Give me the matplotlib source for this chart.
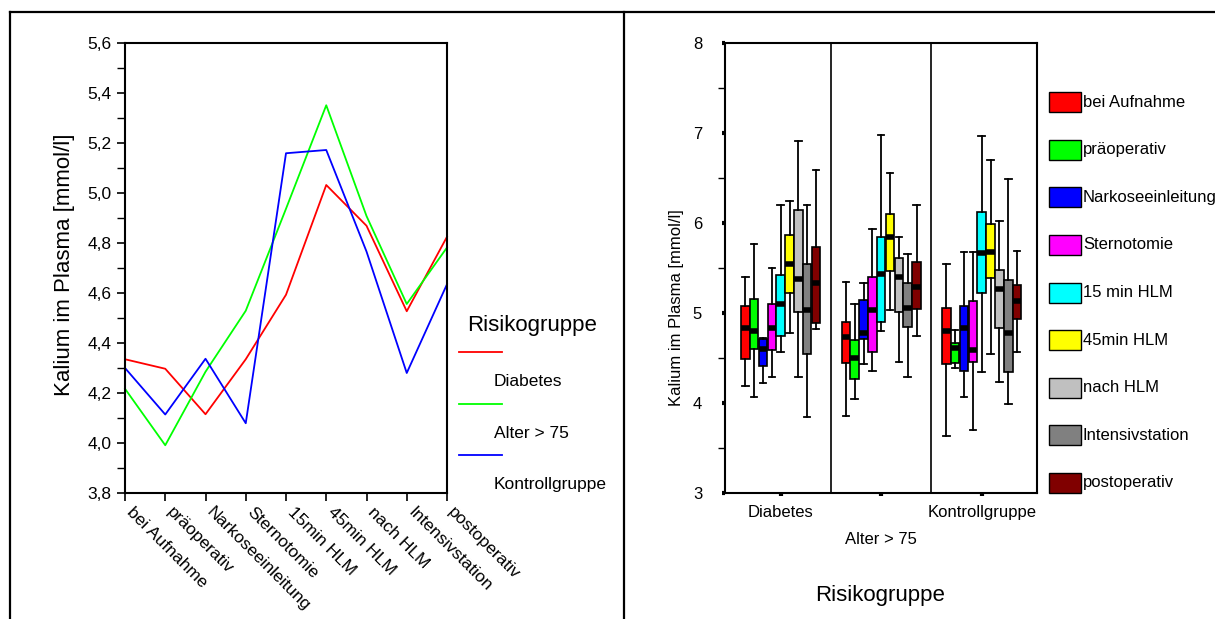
import matplotlib
matplotlib.use("Agg")
import matplotlib.pyplot as plt
from matplotlib.lines import Line2D
from matplotlib.patches import Rectangle
from matplotlib.transforms import ScaledTranslation

plt.rcParams['font.family'] = ['Liberation Sans', 'DejaVu Sans']

# left chart: mean potassium per time point and risk group
zeitpunkte = ["bei Aufnahme", "präoperativ", "Narkoseeinleitung", "Sternotomie",
              "15min HLM", "45min HLM", "nach HLM", "Intensivstation", "postoperativ"]
diabetes = [4.335, 4.297, 4.115, 4.335, 4.593, 5.032, 4.869, 4.527, 4.825]
alter75 = [4.217, 3.991, 4.285, 4.529, 4.937, 5.351, 4.908, 4.556, 4.782]
kontrolle = [4.300, 4.114, 4.337, 4.079, 5.159, 5.172, 4.766, 4.280, 4.635]
gruppen = ["Diabetes", "Alter > 75", "Kontrollgruppe"]
linien_farben = ["#ff0000", "#00ff00", "#0000ff"]

# right chart: boxplot statistics, one row per group, one value per time point
legend_labels = ["bei Aufnahme", "präoperativ", "Narkoseeinleitung", "Sternotomie",
                 "15 min HLM", "45min HLM", "nach HLM", "Intensivstation", "postoperativ"]
box_farben = ["#ff0000", "#00ff00", "#0000ff", "#ff00ff", "#00ffff",
              "#ffff00", "#c0c0c0", "#808080", "#800000"]
whislo = [[4.19, 4.07, 4.22, 4.29, 4.57, 4.78, 4.29, 3.84, 4.82],
          [3.86, 4.04, 4.43, 4.36, 4.80, 5.03, 4.46, 4.29, 4.74],
          [3.63, 4.39, 4.07, 3.70, 4.34, 4.55, 4.23, 3.99, 4.57]]
q1 = [[4.49, 4.60, 4.41, 4.59, 4.74, 5.22, 5.01, 4.55, 4.89],
      [4.44, 4.27, 4.71, 4.57, 4.90, 5.47, 5.01, 4.85, 5.04],
      [4.43, 4.44, 4.36, 4.46, 5.22, 5.39, 4.83, 4.34, 4.93]]
med = [[4.83, 4.80, 4.60, 4.83, 5.10, 5.54, 5.38, 5.03, 5.33],
       [4.73, 4.50, 4.78, 5.03, 5.43, 5.85, 5.40, 5.06, 5.29],
       [4.80, 4.61, 4.83, 4.59, 5.67, 5.68, 5.27, 4.78, 5.13]]
q3 = [[5.08, 5.16, 4.71, 5.10, 5.42, 5.87, 6.14, 5.54, 5.73],
      [4.90, 4.70, 5.14, 5.40, 5.85, 6.10, 5.61, 5.33, 5.57],
      [5.06, 4.67, 5.08, 5.13, 6.12, 5.99, 5.48, 5.37, 5.31]]
whishi = [[5.40, 5.77, 4.72, 5.50, 6.20, 6.24, 6.91, 6.20, 6.59],
          [5.34, 5.10, 5.33, 5.93, 6.98, 6.56, 5.85, 5.66, 6.20],
          [5.54, 4.81, 5.68, 5.68, 6.97, 6.70, 6.02, 6.49, 5.69]]

W, H = 1215, 619
fig = plt.figure(figsize=(W / 100, H / 100), dpi=100)


def fx(x):
    return x / W


def fy(y):
    return 1 - y / H


# frame lines of the two panels
for xs, ys in [([10, 1215], [12, 12]), ([10, 10], [12, 619]), ([624, 624], [12, 619])]:
    fig.add_artist(Line2D([fx(v) for v in xs], [fy(v) for v in ys],
                          color="black", lw=1.6, transform=fig.transFigure))

# ---------------- left: line chart ----------------
ax1 = fig.add_axes([fx(125), fy(493), fx(447 - 125), (493 - 43) / H])
x = list(range(len(zeitpunkte)))
for werte, farbe in zip([diabetes, alter75, kontrolle], linien_farben):
    ax1.plot(x, werte, color=farbe, lw=1.3, clip_on=False)
ax1.set_xlim(0, len(zeitpunkte) - 1)
ax1.set_ylim(3.8, 5.6)
ax1.set_yticks([3.8 + 0.2 * i for i in range(10)])
ax1.set_yticklabels([f"{3.8 + 0.2 * i:.1f}".replace(".", ",") for i in range(10)], fontsize=12.5)
ax1.set_yticks([3.9 + 0.2 * i for i in range(9)], minor=True)
ax1.tick_params(axis="y", which="major", length=6, width=1.2, direction="out")
ax1.tick_params(axis="y", which="minor", length=6, width=1.0, direction="out")
ax1.tick_params(axis="x", length=6, width=1.2, direction="out", pad=4)
ax1.set_xticks(x)
ax1.set_xticklabels(zeitpunkte, rotation=-45, ha="left", va="top",
                    rotation_mode="anchor", fontsize=12.5)
# SPSS puts the slanted labels a little to the right of each tick
shift = ScaledTranslation(0.09, 0.02, fig.dpi_scale_trans)
for lbl in ax1.get_xticklabels():
    lbl.set_transform(lbl.get_transform() + shift)
for s in ax1.spines.values():
    s.set_linewidth(1.5)
fig.text(fx(65), fy(265), "Kalium im Plasma [mmol/l]", rotation=90,
         ha="center", va="center", fontsize=16)

# left legend (SPSS style: line above its label)
fig.text(fx(467), fy(325), "Risikogruppe", ha="left", va="center", fontsize=16)
for i, (name, farbe) in enumerate(zip(gruppen, linien_farben)):
    ly = 352 + i * 51.5
    fig.add_artist(Line2D([fx(459), fx(502)], [fy(ly), fy(ly)], color=farbe, lw=1.3,
                          transform=fig.transFigure))
    fig.text(fx(494), fy(ly + 30), name, ha="left", va="center", fontsize=12.5)

# ---------------- right: grouped boxplots ----------------
ax2 = fig.add_axes([fx(725), fy(493), fx(1037 - 725), (493 - 43) / H])
spacing = 0.088
for g in range(len(gruppen)):
    stats = []
    for k in range(len(legend_labels)):
        stats.append(dict(whislo=whislo[g][k], q1=q1[g][k], med=med[g][k],
                          q3=q3[g][k], whishi=whishi[g][k], fliers=[]))
    pos = [g + (k - 4) * spacing for k in range(len(legend_labels))]
    bp = ax2.bxp(stats, positions=pos, widths=0.085, patch_artist=True,
                 showfliers=False, capwidths=0.065, manage_ticks=False,
                 boxprops=dict(linewidth=1.2, edgecolor="black"),
                 medianprops=dict(color="black", linewidth=4, solid_capstyle="butt"),
                 whiskerprops=dict(color="black", linewidth=1.3),
                 capprops=dict(color="black", linewidth=1.3))
    for patch, farbe in zip(bp["boxes"], box_farben):
        patch.set_facecolor(farbe)
for xv in [0.5, 1.5]:
    ax2.axvline(xv, color="black", lw=1.2)
ax2.set_xlim(-0.554, 2.55)
ax2.set_ylim(3, 8)
ax2.set_yticks(range(3, 9))
ax2.set_yticklabels([str(v) for v in range(3, 9)], fontsize=12)
ax2.set_yticks([3.5, 4.5, 5.5, 6.5, 7.5], minor=True)
ax2.tick_params(axis="y", which="major", length=2.5, width=3, pad=14)
ax2.tick_params(axis="y", which="minor", length=5, width=1)
ax2.set_xticks(range(len(gruppen)))
ax2.set_xticklabels(["Diabetes", "\nAlter > 75", "Kontrollgruppe"], fontsize=12,
                    linespacing=2.0)
ax2.tick_params(axis="x", length=2.5, width=3, pad=6)
for s in ax2.spines.values():
    s.set_linewidth(1.5)
fig.text(fx(676), fy(308), "Kalium im Plasma [mmol/l]", rotation=90,
         ha="center", va="center", fontsize=12)
fig.text(fx(880), fy(596), "Risikogruppe", ha="center", va="center", fontsize=16)

# right legend
for i, (name, farbe) in enumerate(zip(legend_labels, box_farben)):
    cy = 102.3 + i * 47.55
    fig.add_artist(Rectangle((fx(1049), fy(cy + 10)), fx(32), 20 / H, facecolor=farbe,
                             edgecolor="black", lw=1.0, transform=fig.transFigure))
    fig.text(fx(1083), fy(cy), name, ha="left", va="center", fontsize=12)

fig.savefig("out.png", dpi=100)
